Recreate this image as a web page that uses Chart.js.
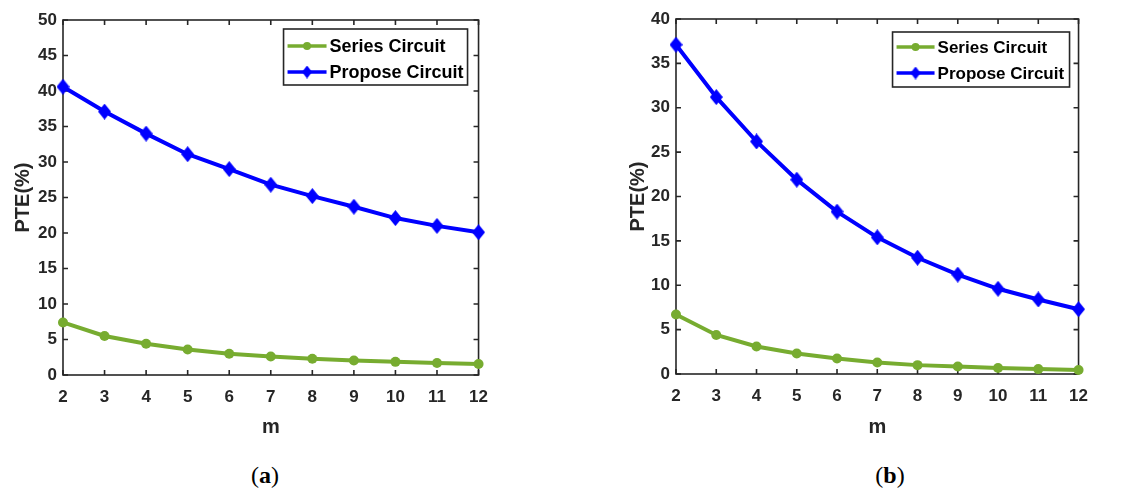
<!DOCTYPE html>
<html lang="en">
<head>
    <meta charset="UTF-8">
    <title>PTE vs m</title>
    <script src="https://cdn.jsdelivr.net/npm/chart.js"></script>
    <style>
        body { margin: 0; background: #fff; width: 1129px; height: 488px; position: relative; overflow: hidden; }
        canvas { position: absolute; top: 0; }
        #chartA { left: 0; }
        #chartB { left: 600px; }
        .cap { position: absolute; top: 461px; font-family: "Liberation Serif", "DejaVu Serif", serif; font-size: 24px; line-height: 28px; color: #000; transform: translateX(-50%); }
    </style>
</head>
<body>
    <canvas id="chartA" width="500" height="445"></canvas>
    <canvas id="chartB" width="500" height="445"></canvas>
    <div class="cap" style="left: 265px;">(<b>a</b>)</div>
    <div class="cap" style="left: 890px;">(<b>b</b>)</div>
    <script>
        const mValues = ['2', '3', '4', '5', '6', '7', '8', '9', '10', '11', '12'];

        // panel (a)
        const seriesA = [7.4, 5.5, 4.4, 3.6, 3.0, 2.6, 2.3, 2.05, 1.85, 1.7, 1.55];
        const proposeA = [40.6, 37.1, 34.0, 31.1, 29.0, 26.8, 25.2, 23.7, 22.1, 21.0, 20.1];
        const yMaxA = 50;

        // panel (b)
        const seriesB = [6.7, 4.4, 3.1, 2.3, 1.75, 1.3, 1.0, 0.85, 0.68, 0.55, 0.45];
        const proposeB = [37.1, 31.2, 26.2, 21.9, 18.3, 15.4, 13.1, 11.2, 9.6, 8.4, 7.3];
        const yMaxB = 40;

        const labels = ['Series Circuit', 'Propose Circuit'];
        const green = '#77AC30';
        const blue = '#0000FF';
        const axisColor = '#262626';
        const fontFamily = '"Liberation Sans", Arial, sans-serif';

        // MATLAB style diamond marker (taller than wide)
        function makeDiamond(w, h) {
            const c = document.createElement('canvas');
            c.width = w;
            c.height = h;
            const g = c.getContext('2d');
            g.fillStyle = blue;
            g.beginPath();
            g.moveTo(w / 2, 0);
            g.lineTo(w, h / 2);
            g.lineTo(w / 2, h);
            g.lineTo(0, h / 2);
            g.closePath();
            g.fill();
            return c;
        }
        const diamond = makeDiamond(13, 16);
        const smallDiamond = makeDiamond(10, 13);

        // box around the axes plus inward ticks on all four sides
        const boxPlugin = {
            id: 'box',
            beforeDatasetsDraw(chart) {
                const { ctx, chartArea: a, scales } = chart;
                ctx.save();
                ctx.strokeStyle = axisColor;
                ctx.lineWidth = 1.6;
                ctx.strokeRect(a.left, a.top, a.right - a.left, a.bottom - a.top);
                ctx.beginPath();
                scales.x.ticks.forEach((t, i) => {
                    const px = scales.x.getPixelForTick(i);
                    ctx.moveTo(px, a.bottom); ctx.lineTo(px, a.bottom - 5);
                    ctx.moveTo(px, a.top); ctx.lineTo(px, a.top + 5);
                });
                scales.y.ticks.forEach(t => {
                    const py = scales.y.getPixelForValue(t.value);
                    ctx.moveTo(a.left, py); ctx.lineTo(a.left + 5, py);
                    ctx.moveTo(a.right, py); ctx.lineTo(a.right - 5, py);
                });
                ctx.stroke();
                ctx.restore();
            },
            afterDraw(chart, args, opts) {
                // boxed legend in the top right corner
                const { ctx, chartArea: a } = chart;
                const bx = a.right - opts.right - opts.w;
                const by = a.top + opts.top;
                ctx.save();
                ctx.fillStyle = '#fff';
                ctx.fillRect(bx, by, opts.w, opts.h);
                ctx.strokeStyle = axisColor;
                ctx.lineWidth = 1.6;
                ctx.strokeRect(bx, by, opts.w, opts.h);
                chart.data.datasets.forEach((ds, i) => {
                    const y = by + opts.row0 + i * opts.rowGap;
                    const x0 = bx + 4, x1 = bx + opts.lineLen;
                    ctx.strokeStyle = ds.borderColor;
                    ctx.lineWidth = 3.5;
                    ctx.beginPath();
                    ctx.moveTo(x0, y);
                    ctx.lineTo(x1, y);
                    ctx.stroke();
                    const cx = (x0 + x1) / 2;
                    if (i === 0) {
                        ctx.fillStyle = ds.borderColor;
                        ctx.beginPath();
                        ctx.arc(cx, y, 4, 0, Math.PI * 2);
                        ctx.fill();
                    } else {
                        ctx.drawImage(smallDiamond, cx - 5, y - 6.5);
                    }
                    ctx.fillStyle = '#000';
                    ctx.font = 'bold ' + opts.fontSize + 'px ' + fontFamily;
                    ctx.textBaseline = 'middle';
                    ctx.fillText(ds.label, x1 + 3, y + 1);
                });
                ctx.restore();
            }
        };

        function makeChart(id, series, propose, yMax, lay) {
            const ctx = document.getElementById(id).getContext('2d');
            return new Chart(ctx, {
                type: 'line',
                data: {
                    labels: mValues,
                    datasets: [{
                        label: labels[0],
                        data: series,
                        borderColor: green,
                        backgroundColor: green,
                        borderWidth: 4,
                        pointRadius: 5,
                        pointBorderWidth: 0,
                        tension: 0,
                        clip: false
                    }, {
                        label: labels[1],
                        data: propose,
                        borderColor: blue,
                        backgroundColor: blue,
                        borderWidth: 4,
                        pointStyle: diamond,
                        tension: 0,
                        clip: false
                    }]
                },
                options: {
                    responsive: false,
                    animation: false,
                    events: [],
                    layout: { padding: { top: lay.top, right: lay.right, left: 0, bottom: 0 } },
                    plugins: {
                        legend: { display: false },
                        tooltip: { enabled: false },
                        box: lay.legend
                    },
                    scales: {
                        x: {
                            grid: { display: false, drawTicks: false },
                            border: { display: false },
                            offset: false,
                            ticks: { color: axisColor, padding: 12, font: { family: fontFamily, size: 17, weight: 'bold' } },
                            title: { display: true, text: 'm', color: axisColor, padding: { top: 6, bottom: 6 }, font: { family: fontFamily, size: 20, weight: 'bold' } },
                            afterFit: s => { s.height = lay.xh; }
                        },
                        y: {
                            min: 0,
                            max: yMax,
                            grid: { display: false, drawTicks: false },
                            border: { display: false },
                            ticks: { stepSize: 5, color: axisColor, padding: 6, font: { family: fontFamily, size: 17, weight: 'bold' } },
                            title: { display: true, text: 'PTE(%)', color: axisColor, padding: { top: lay.titlePad, bottom: 0 }, font: { family: fontFamily, size: 20, weight: 'bold' } },
                            afterFit: s => { s.width = lay.yw; }
                        }
                    }
                },
                plugins: [boxPlugin]
            });
        }

        window.onload = function() {
            makeChart('chartA', seriesA, proposeA, yMaxA, {
                top: 20, right: 16, yw: 63, xh: 70, titlePad: 11,
                legend: { right: 11, top: 9, w: 184, h: 56, row0: 17, rowGap: 26, lineLen: 43, fontSize: 18 }
            });
            makeChart('chartB', seriesB, proposeB, yMaxB, {
                top: 19, right: 21, yw: 76, xh: 71, titlePad: 26,
                legend: { right: 9, top: 13, w: 177, h: 55, row0: 15, rowGap: 26, lineLen: 42, fontSize: 17 }
            });
        };
    </script>
</body>
</html>
